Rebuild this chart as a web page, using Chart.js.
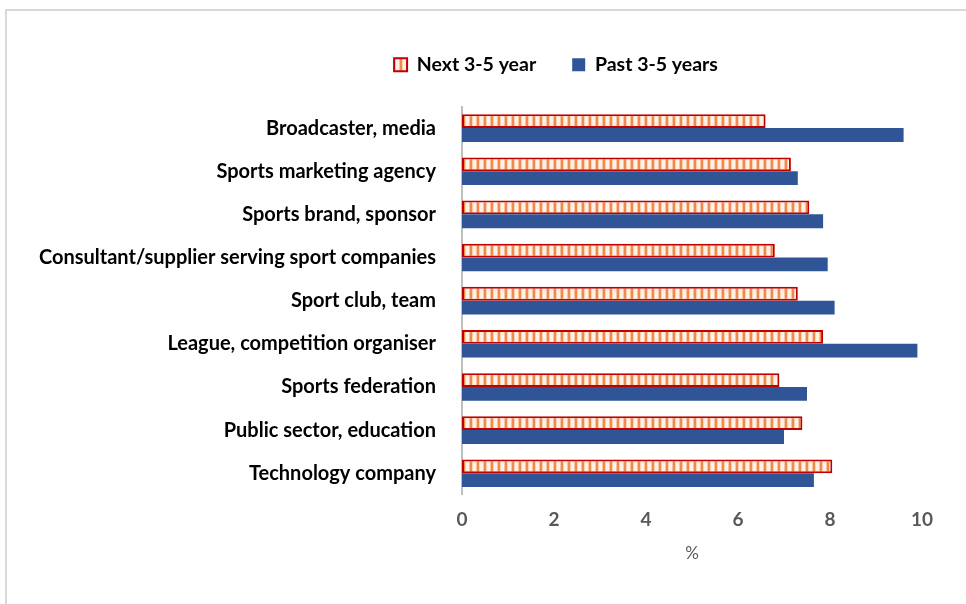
<!DOCTYPE html>
<html>
<head>
<meta charset="utf-8">
<script src="https://cdn.jsdelivr.net/npm/chart.js@4"></script>
<style>
  html, body { margin: 0; padding: 0; background: #fff; }
  #wrap { position: relative; width: 966px; height: 604px; }
  #frame { position: absolute; left: 5px; top: 9px; right: -2px; bottom: -2px;
           border-top: 2px solid #d9d9d9; border-left: 2px solid #d9d9d9; }
  canvas { position: absolute; left: 0; top: 0; }
</style>
</head>
<body>
<div id="wrap">
  <div id="frame"></div>
  <canvas id="c" width="966" height="604"></canvas>
</div>
<script>
// Survey categories, top to bottom
const categories = [
  'Broadcaster, media',
  'Sports marketing agency',
  'Sports brand, sponsor',
  'Consultant/supplier serving sport companies',
  'Sport club, team',
  'League, competition organiser',
  'Sports federation',
  'Public sector, education',
  'Technology company'
];
const nextYears = [6.6, 7.15, 7.55, 6.8, 7.3, 7.85, 6.9, 7.4, 8.05];
const pastYears = [9.6, 7.3, 7.85, 7.95, 8.1, 9.9, 7.5, 7.0, 7.65];
const seriesNames = ['Next 3-5 year', 'Past 3-5 years'];
const xTicks = [0, 2, 4, 6, 8, 10];

// Striped peach fill for the "next" series
function stripePattern() {
  const p = document.createElement('canvas');
  p.width = 7; p.height = 4;
  const g = p.getContext('2d');
  g.fillStyle = '#fff1e6'; g.fillRect(0, 0, 7, 4);
  g.fillStyle = '#f8c4a0'; g.fillRect(0, 0, 1, 4);
  g.fillStyle = '#ef8a4c'; g.fillRect(1, 0, 2, 4);
  g.fillStyle = '#f9d2b6'; g.fillRect(3, 0, 1, 4);
  return document.getElementById('c').getContext('2d').createPattern(p, 'repeat');
}

const FONT = 'Lato, "Open Sans", sans-serif';
const AXIS_X0 = 462;     // left edge of the plot area
const LEGEND_GAP = 22;   // extra space between legend and plot
const LEGEND_DX = 95;    // legend sits right of the canvas centre

// Moves the legend sideways and leaves a gap below it
const legendPlacement = {
  id: 'legendPlacement',
  beforeLayout(chart) {
    const lg = chart.legend;
    if (lg && !lg._gapAdded) {
      const fit = lg.fit;
      lg.fit = function () { fit.call(this); this.height += LEGEND_GAP; };
      lg._gapAdded = true;
    }
  },
  afterLayout(chart) {
    const lg = chart.legend;
    if (lg) { lg.left += LEGEND_DX; lg.right += LEGEND_DX; }
  }
};

new Chart(document.getElementById('c'), {
  type: 'bar',
  data: {
    labels: categories,
    datasets: [
      {
        label: seriesNames[0],
        data: nextYears,
        backgroundColor: stripePattern(),
        borderColor: '#c00000',
        borderWidth: 2,
        borderSkipped: false
      },
      {
        label: seriesNames[1],
        data: pastYears,
        backgroundColor: '#2f5597',
        borderColor: '#2f5597',
        borderWidth: 0
      }
    ]
  },
  plugins: [legendPlacement],
  options: {
    indexAxis: 'y',
    responsive: false,
    animation: false,
    datasets: { bar: { categoryPercentage: 0.64, barPercentage: 1.0 } },
    layout: { padding: { top: 19, right: 44, bottom: 36, left: 0 } },
    plugins: {
      tooltip: { enabled: false },
      legend: {
        position: 'top',
        labels: {
          font: { family: FONT, size: 19.5, weight: 'bold' },
          color: '#000',
          boxWidth: 13,
          boxHeight: 13,
          padding: 36
        }
      }
    },
    scales: {
      x: {
        min: 0, max: 10,
        afterBuildTicks: s => { s.ticks = xTicks.map(v => ({ value: v })); },
        grid: { display: false },
        border: { display: false },
        ticks: {
          font: { family: FONT, size: 19, weight: 'bold' },
          color: '#595959',
          padding: 6
        },
        title: {
          display: true,
          text: '%',
          font: { family: FONT, size: 17 },
          color: '#595959',
          padding: { top: 6 }
        }
      },
      y: {
        grid: { display: false },
        border: { display: true, color: '#bfbfbf', width: 2 },
        afterFit: s => { s.width = AXIS_X0; },
        ticks: {
          font: { family: FONT, size: 20, weight: 'bold' },
          color: '#000',
          padding: 18
        }
      }
    }
  }
});
</script>
</body>
</html>
